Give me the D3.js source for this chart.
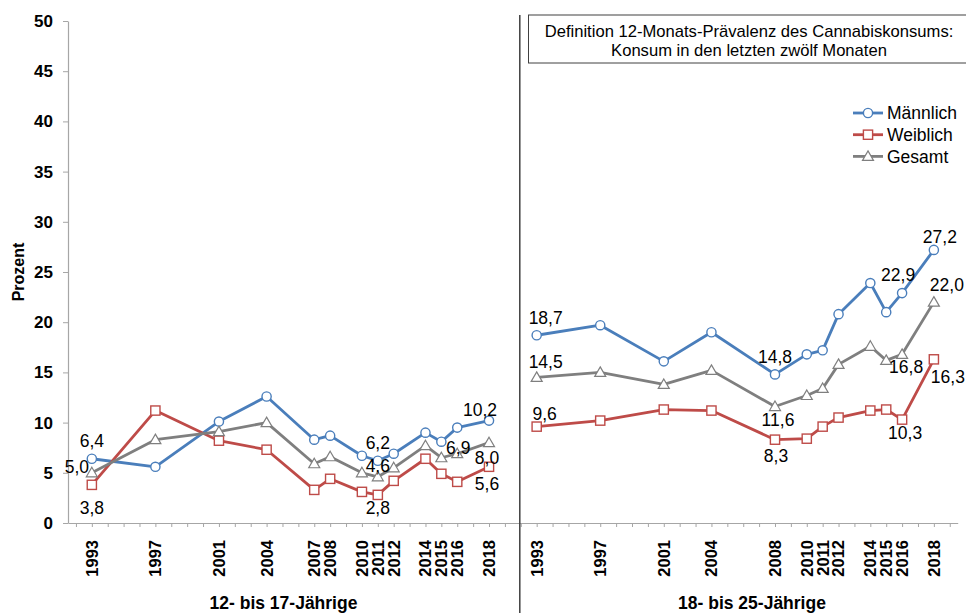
<!DOCTYPE html>
<html>
<head>
<meta charset="utf-8">
<script src="https://cdn.jsdelivr.net/npm/d3@7"></script>
<style>
  body { margin: 0; background: #fff; }
  svg { font-family: Arial, "Liberation Sans", sans-serif; }
</style>
</head>
<body>
<div id="chart"></div>
<script>
// years surveyed, per age group
const yearsYouth = [1993, 1997, 2001, 2004, 2007, 2008, 2010, 2011, 2012, 2014, 2015, 2016, 2018];
const yearsAdult = [1993, 1997, 2001, 2004, 2008, 2010, 2011, 2012, 2014, 2015, 2016, 2018];

// 12-Monats-Prävalenz in Prozent
const maleYouth   = [6.4, 5.6, 10.1, 12.6, 8.3, 8.7, 6.7, 6.2, 6.9, 9.0, 8.1, 9.5, 10.2];
const femaleYouth = [3.8, 11.2, 8.2, 7.3, 3.3, 4.4, 3.1, 2.8, 4.2, 6.4, 4.9, 4.1, 5.6];
const totalYouth  = [5.0, 8.3, 9.1, 10.0, 5.9, 6.6, 5.0, 4.6, 5.5, 7.7, 6.5, 6.9, 8.0];

const maleAdult   = [18.7, 19.7, 16.1, 19.0, 14.8, 16.8, 17.2, 20.8, 23.9, 21.0, 22.9, 27.2];
const femaleAdult = [9.6, 10.2, 11.3, 11.2, 8.3, 8.4, 9.6, 10.5, 11.2, 11.3, 10.3, 16.3];
const totalAdult  = [14.5, 15.0, 13.8, 15.2, 11.6, 12.7, 13.4, 15.8, 17.6, 16.2, 16.8, 22.0];

const seriesNames = ["Männlich", "Weiblich", "Gesamt"];
const groupNames = ["12- bis 17-Jährige", "18- bis 25-Jährige"];
const yTicks = [0, 5, 10, 15, 20, 25, 30, 35, 40, 45, 50];

const width = 966;
const height = 613;

const colors = { "Männlich": "#4a7ebb", "Weiblich": "#be4b48", "Gesamt": "#7f7f7f" };
const markers = { "Männlich": "circle", "Weiblich": "square", "Gesamt": "triangle" };

// one long category axis: youth years, two empty slots, adult years
const gapSlots = 28;
const slot = (year, group) => (year - 1993) + (group === 1 ? gapSlots : 0);

const x = d3.scaleLinear().domain([-1.5, 54.5]).range([68, 957.7]);
const y = d3.scaleLinear().domain([0, 50]).range([523, 21]);

const groups = [
  { years: yearsYouth, values: { "Männlich": maleYouth, "Weiblich": femaleYouth, "Gesamt": totalYouth } },
  { years: yearsAdult, values: { "Männlich": maleAdult, "Weiblich": femaleAdult, "Gesamt": totalAdult } }
];

// which points get a value label and where it sits relative to the marker
const labelSpots = [
  { g: 0, s: "Männlich", year: 1993, dx: 0, dy: -18 },
  { g: 0, s: "Gesamt", year: 1993, dx: -15, dy: -6 },
  { g: 0, s: "Weiblich", year: 1993, dx: 0, dy: 23 },
  { g: 0, s: "Männlich", year: 2011, dx: 0, dy: -18 },
  { g: 0, s: "Gesamt", year: 2011, dx: 0, dy: -11 },
  { g: 0, s: "Weiblich", year: 2011, dx: 0, dy: 13 },
  { g: 0, s: "Männlich", year: 2018, dx: -9, dy: -11 },
  { g: 0, s: "Gesamt", year: 2016, dx: 1, dy: -6 },
  { g: 0, s: "Gesamt", year: 2018, dx: -2, dy: 15 },
  { g: 0, s: "Weiblich", year: 2018, dx: -2, dy: 16.5 },
  { g: 1, s: "Männlich", year: 1993, dx: 9, dy: -18 },
  { g: 1, s: "Gesamt", year: 1993, dx: 9, dy: -16 },
  { g: 1, s: "Weiblich", year: 1993, dx: 8, dy: -13 },
  { g: 1, s: "Männlich", year: 2008, dx: 0, dy: -18 },
  { g: 1, s: "Gesamt", year: 2008, dx: 3, dy: 13 },
  { g: 1, s: "Weiblich", year: 2008, dx: 1, dy: 16 },
  { g: 1, s: "Männlich", year: 2016, dx: -4, dy: -18 },
  { g: 1, s: "Männlich", year: 2018, dx: 6, dy: -13 },
  { g: 1, s: "Gesamt", year: 2018, dx: 13, dy: -17 },
  { g: 1, s: "Gesamt", year: 2016, dx: 4, dy: 12 },
  { g: 1, s: "Weiblich", year: 2018, dx: 14, dy: 17 },
  { g: 1, s: "Weiblich", year: 2016, dx: 3, dy: 13 }
];

const fmt = v => d3.format(".1f")(v).replace(".", ",");

const svg = d3.select("#chart").append("svg")
  .attr("width", width)
  .attr("height", height);

// y axis
const yAxis = svg.append("g")
  .attr("transform", `translate(${x(-1.5)},0)`)
  .call(d3.axisLeft(y).tickValues(yTicks).tickSize(5).tickSizeOuter(0).tickPadding(10));
yAxis.select(".domain").attr("stroke", "#a6a6a6").attr("stroke-width", 1.2);
yAxis.selectAll(".tick line").attr("stroke", "#a6a6a6");
yAxis.selectAll(".tick text")
  .attr("fill", "#000")
  .style("font-size", "17px")
  .style("font-weight", "bold")
  .attr("font-family", null);

svg.append("text")
  .attr("transform", "translate(24,272) rotate(-90)")
  .attr("text-anchor", "middle")
  .style("font-size", "16px")
  .style("font-weight", "bold")
  .text("Prozent");

// x axis: a tick for every year slot
const slotTicks = d3.range(-1, 55);
const xAxis = svg.append("g")
  .attr("transform", `translate(0,${y(0)})`)
  .call(d3.axisBottom(x).tickValues(slotTicks).tickSize(4).tickSizeOuter(0).tickFormat(""));
xAxis.select(".domain").attr("stroke", "#a6a6a6").attr("stroke-width", 1.2);
xAxis.selectAll(".tick line").attr("stroke", "#a6a6a6");

// year labels, rotated
groups.forEach((grp, gi) => {
  svg.append("g").selectAll("text")
    .data(grp.years)
    .join("text")
    .attr("transform", d => `translate(${x(slot(d, gi))},540) rotate(-90)`)
    .attr("text-anchor", "end")
    .attr("dy", "0.36em")
    .style("font-size", "16.5px")
    .style("font-weight", "bold")
    .text(d => d);
});

// group titles
groupNames.forEach((name, gi) => {
  svg.append("text")
    .attr("x", gi === 0 ? 283.5 : 752)
    .attr("y", 609)
    .attr("text-anchor", "middle")
    .style("font-size", "17.5px")
    .style("font-weight", "bold")
    .text(name);
});

// separator between the age groups
svg.append("line")
  .attr("x1", x(27) - 1).attr("x2", x(27) - 1)
  .attr("y1", 15).attr("y2", height)
  .attr("stroke", "#404040")
  .attr("stroke-width", 1.5);

// definition box
const box = svg.append("g");
box.append("rect")
  .attr("x", 528.5).attr("y", 15)
  .attr("width", 450).attr("height", 48)
  .attr("fill", "#fff")
  .attr("stroke", "#404040")
  .attr("stroke-width", 1);
box.append("text")
  .attr("x", 749).attr("y", 37)
  .attr("text-anchor", "middle")
  .style("font-size", "16.6px")
  .text("Definition 12-Monats-Prävalenz des Cannabiskonsums:");
box.append("text")
  .attr("x", 749).attr("y", 55.5)
  .attr("text-anchor", "middle")
  .style("font-size", "16.6px")
  .text("Konsum in den letzten zwölf Monaten");

function drawMarker(sel, name, cx, cy) {
  const kind = markers[name];
  const c = colors[name];
  if (kind === "circle") {
    sel.append("circle").attr("cx", cx).attr("cy", cy).attr("r", 4.6)
      .attr("fill", "#fff").attr("stroke", c).attr("stroke-width", 1.4);
  } else if (kind === "square") {
    sel.append("rect").attr("x", cx - 4.6).attr("y", cy - 4.6).attr("width", 9.2).attr("height", 9.2)
      .attr("fill", "#fff").attr("stroke", c).attr("stroke-width", 1.4);
  } else {
    sel.append("path")
      .attr("d", `M${cx},${cy - 5.5}L${cx + 5.5},${cy + 4}L${cx - 5.5},${cy + 4}Z`)
      .attr("fill", "#fff").attr("stroke", c).attr("stroke-width", 1.2);
  }
}

const line = d3.line().x(d => d.px).y(d => d.py);

groups.forEach((grp, gi) => {
  seriesNames.forEach(name => {
    const pts = grp.years.map((yr, i) => ({ px: x(slot(yr, gi)), py: y(grp.values[name][i]) }));
    const g = svg.append("g");
    g.append("path")
      .datum(pts)
      .attr("d", line)
      .attr("fill", "none")
      .attr("stroke", colors[name])
      .attr("stroke-width", 2.8)
      .attr("stroke-linejoin", "round");
    pts.forEach(p => drawMarker(g, name, p.px, p.py));
  });
});

// value labels
svg.append("g").selectAll("text")
  .data(labelSpots)
  .join("text")
  .attr("x", d => x(slot(d.year, d.g)) + d.dx)
  .attr("y", d => {
    const grp = groups[d.g];
    return y(grp.values[d.s][grp.years.indexOf(d.year)]) + d.dy;
  })
  .attr("dy", "0.36em")
  .attr("text-anchor", "middle")
  .style("font-size", "17.5px")
  .text(d => {
    const grp = groups[d.g];
    return fmt(grp.values[d.s][grp.years.indexOf(d.year)]);
  });

// legend
const legend = svg.append("g").attr("transform", "translate(853,113)");
seriesNames.forEach((name, i) => {
  const row = legend.append("g").attr("transform", `translate(0,${i * 21.7})`);
  row.append("line")
    .attr("x1", 0).attr("x2", 30).attr("y1", 0).attr("y2", 0)
    .attr("stroke", colors[name]).attr("stroke-width", 2.8);
  drawMarker(row, name, 15, 0);
  row.append("text")
    .attr("x", 34).attr("y", 0).attr("dy", "0.36em")
    .style("font-size", "17.5px")
    .text(name);
});
</script>
</body>
</html>
